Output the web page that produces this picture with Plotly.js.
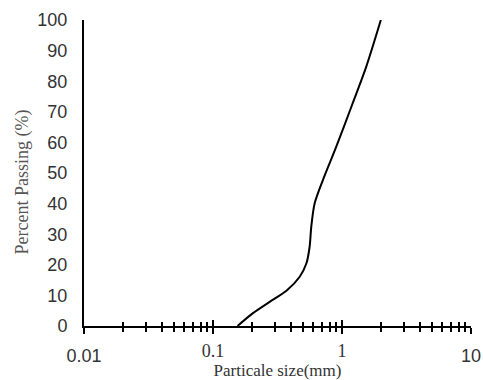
<!DOCTYPE html>
<html>
<head>
<meta charset="utf-8">
<script src="https://cdn.plot.ly/plotly-3.0.1.min.js"></script>
<style>html,body{margin:0;padding:0;background:#fff;}#chart{width:483px;height:380px;}</style>
</head>
<body>
<div id="chart"></div>
<script>
// Particle size (mm) and percent passing
const sizeMm = [0.155, 0.204, 0.275, 0.371, 0.47, 0.53, 0.561, 0.578, 0.614, 0.711, 0.903, 1.21, 1.54, 2.0];
const percentPassing = [0, 4.2, 7.9, 11.5, 16.1, 20.5, 25.9, 32.5, 40.1, 47.7, 58.6, 72.8, 84.7, 100];

const majorTicks = [0.01, 0.1, 1, 10];
const sansLabels = ['0.01', '', '', '10'];
const serifLabels = ['', '0.1', '1', ''];
const minorTicks = [0.02,0.03,0.04,0.05,0.06,0.07,0.08,0.09,0.2,0.3,0.4,0.5,0.6,0.7,0.8,0.9,2,3,4,5,6,7,8,9];
const yTicks = [0,10,20,30,40,50,60,70,80,90,100];

const trace = {
  x: sizeMm, y: percentPassing, type: 'scatter', mode: 'lines',
  line: {color: '#000', width: 2, shape: 'spline', smoothing: 0.8},
  hoverinfo: 'skip', showlegend: false
};

const xRange = [-2, 1];
const layout = {
  width: 483, height: 380,
  margin: {l: 84, r: 12, t: 20, b: 54},
  paper_bgcolor: '#fff', plot_bgcolor: '#fff',
  showlegend: false,
  xaxis: {
    type: 'log', range: xRange, showgrid: false, zeroline: false,
    showline: true, linecolor: '#000', linewidth: 2,
    tickmode: 'array', tickvals: majorTicks, ticktext: sansLabels,
    ticks: 'outside', ticklen: 6, tickwidth: 2, tickcolor: '#000',
    ticklabelstandoff: 6,
    tickfont: {family: 'Liberation Sans', size: 18, color: '#333'},
    minor: {tickmode: 'array', tickvals: minorTicks, ticks: 'outside', ticklen: 4, tickwidth: 2, tickcolor: '#000', showgrid: false},
    title: {text: 'Particale size(mm)', font: {family: 'Liberation Serif', size: 17, color: '#333'}, standoff: 3},
    fixedrange: true
  },
  xaxis2: {
    type: 'log', range: xRange, overlaying: 'x', anchor: 'y', side: 'bottom',
    showgrid: false, zeroline: false, showline: false, showticklabels: true,
    tickmode: 'array', tickvals: majorTicks, ticktext: serifLabels,
    ticks: 'inside', ticklen: 6, tickwidth: 2, tickcolor: '#000',
    ticklabelstandoff: 12,
    tickfont: {family: 'Liberation Serif', size: 18, color: '#333'},
    minor: {tickmode: 'array', tickvals: minorTicks, ticks: 'inside', ticklen: 4, tickwidth: 2, tickcolor: '#000', showgrid: false},
    fixedrange: true
  },
  yaxis: {
    range: [0, 100], showgrid: false, zeroline: false,
    showline: true, linecolor: '#000', linewidth: 2,
    tickmode: 'array', tickvals: yTicks, ticks: '',
    ticklabelstandoff: 11,
    tickfont: {family: 'Liberation Sans', size: 18, color: '#333'},
    title: {text: 'Percent Passing (%)&nbsp;&nbsp;&nbsp;&nbsp;', font: {family: 'Liberation Serif', size: 18, color: '#555'}, standoff: 4},
    fixedrange: true
  }
};

Plotly.newPlot('chart', [trace, {x: [1], y: [0], xaxis: 'x2', yaxis: 'y', type: 'scatter', mode: 'markers', marker: {opacity: 0}, hoverinfo: 'skip', showlegend: false}], layout, {displayModeBar: false, staticPlot: true});
</script>
</body>
</html>
